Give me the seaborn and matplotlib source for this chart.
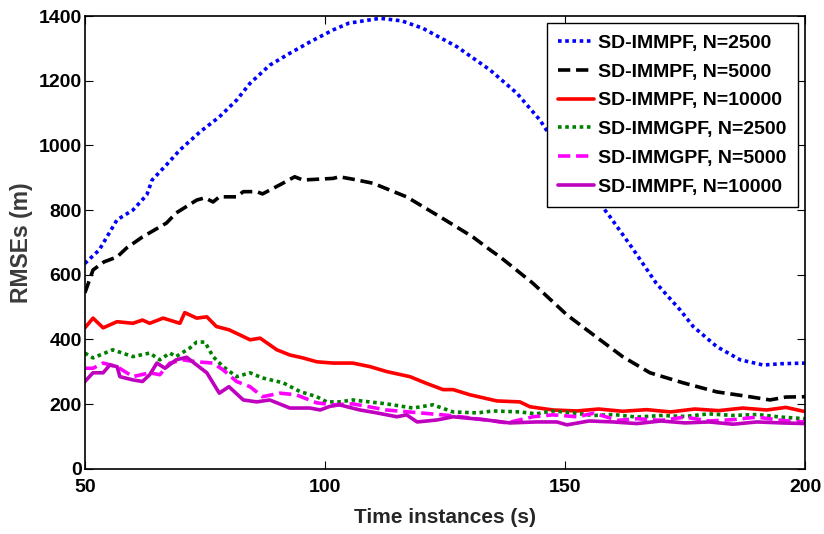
import matplotlib
matplotlib.use("Agg")
import matplotlib.pyplot as plt
import seaborn as sns
import numpy as np
import pandas as pd

# ---- data ----
t_imm2500 = [50, 53, 56.7, 60, 62.9, 64, 67, 69.8, 74, 78, 81.6, 84.4, 88.5, 92.7, 96.9,
             101.7, 105, 111.5, 116, 120.4, 127.5, 134.4, 140, 144.8, 147.5, 152, 156,
             159.4, 164, 169, 174, 176.7, 181.6, 186.5, 191.3, 195, 200]
y_imm2500 = [635, 677, 770, 800, 847, 893, 940, 986, 1042, 1088, 1140, 1192, 1248, 1285, 1320,
             1357, 1378, 1393, 1385, 1362, 1305, 1233, 1161, 1078, 1016, 920, 845,
             779, 683, 574, 491, 440, 378, 337, 321, 325, 327]

t_imm5000 = [50, 51.7, 54, 56.7, 58.7, 62, 67, 69, 73.3, 75, 76.7, 78, 81.6, 83, 85.8, 87,
             90.6, 93.7, 95.4, 101.7, 103, 106, 110, 117, 124, 130.8, 134.4, 136.5, 143.3,
             150.4, 157.3, 162, 167.7, 174.6, 181.6, 188.5, 192.7, 196, 200]
y_imm5000 = [544, 615, 640, 655, 683, 717, 760, 791, 831, 838, 825, 841, 841, 857, 857, 850,
             878, 903, 893, 898, 903, 895, 883, 841, 779, 717, 677, 655, 574,
             476, 399, 347, 297, 266, 238, 223, 213, 222, 223]

t_imm10000 = [50, 51.7, 53.8, 56.7, 60, 62, 63.5, 66.3, 69.8, 70.8, 73.3, 75.4, 77.4, 80,
              82.3, 84.4, 86.5, 90, 92.7, 95.4, 98.3, 101.7, 105.8, 109.4, 112.8, 117.7,
              121.2, 124.6, 126.7, 130.2, 135.8, 140.6, 142.7, 147.5, 152.5, 157, 162, 167,
              172, 177, 182, 187, 192, 196, 200]
y_imm10000 = [436, 466, 436, 455, 450, 460, 450, 466, 450, 483, 466, 470, 440, 430,
              414, 399, 404, 368, 352, 343, 331, 327, 327, 316, 301, 285,
              264, 245, 245, 229, 210, 207, 192, 182, 179, 185, 178, 183,
              176, 185, 180, 188, 182, 190, 177]

t_gpf2500 = [50, 51.7, 55.8, 60, 63.5, 65.6, 67.7, 69, 71.9, 73.3, 75, 76.7, 78.8, 81.6, 84.4,
             87, 91.3, 94.8, 98.3, 100.4, 103, 105.8, 112.8, 118.3, 122.5, 126.7, 131.7, 135,
             140.6, 144, 147.5, 151.7, 156, 160, 165, 170, 175, 180, 185, 190, 195, 200]
y_gpf2500 = [358, 343, 368, 347, 358, 337, 358, 347, 374, 392, 392, 347, 316, 285, 297,
             281, 266, 239, 223, 207, 207, 213, 201, 188, 198, 176, 173, 179,
             176, 170, 179, 173, 165, 168, 160, 165, 162, 170, 165, 168, 160, 155]

t_gpf5000 = [50, 51.7, 53.8, 56.7, 60, 63.5, 65.6, 67.7, 70.4, 73.3, 76.7, 78.8, 81.6, 84.4,
             87, 90.6, 94, 98.3, 101.7, 105.8, 112.8, 119.8, 126.7, 133.7, 137.9, 143.3,
             147.5, 152.5, 156, 161, 165, 170, 175, 180, 185, 190, 195, 200]
y_gpf5000 = [311, 311, 327, 316, 285, 297, 291, 327, 337, 331, 327, 306, 270, 254,
             223, 234, 229, 204, 198, 201, 182, 173, 164, 151, 142, 161,
             167, 161, 172, 150, 155, 150, 160, 148, 152, 160, 150, 145]

t_imm10000b = [50, 51.7, 53.8, 55.2, 56.7, 57.3, 60, 62, 63.5, 65, 66.7, 69, 71.2, 73.3, 75.4,
               78, 80, 83, 85.8, 88.5, 92.7, 96.9, 99, 101, 103, 107.3, 110.8, 115, 117, 119.2,
               123.3, 126.7, 133.7, 138.5, 144, 148.3, 150.4, 155, 160, 165, 170, 175, 180,
               185, 190, 195, 200]
y_imm10000b = [270, 297, 297, 321, 316, 285, 275, 270, 291, 327, 311, 337, 345, 321, 297,
               234, 254, 213, 207, 213, 188, 188, 182, 193, 198, 182, 173, 161, 167, 145,
               151, 161, 151, 142, 145, 145, 136, 148, 145, 140, 148, 142, 145,
               138, 145, 142, 140]

labels = ["SD-IMMPF, N=2500", "SD-IMMPF, N=5000", "SD-IMMPF, N=10000",
          "SD-IMMGPF, N=2500", "SD-IMMGPF, N=5000", "SD-IMMPF, N=10000"]
x_ticks = [50, 100, 150, 200]
y_ticks = [0, 200, 400, 600, 800, 1000, 1200, 1400]

series = [(t_imm2500, y_imm2500), (t_imm5000, y_imm5000), (t_imm10000, y_imm10000),
          (t_gpf2500, y_gpf2500), (t_gpf5000, y_gpf5000), (t_imm10000b, y_imm10000b)]
colors = ["#0000FF", "#000000", "#FF0000", "#008000", "#FF00FF", "#BF00BF"]
styles = [(0, (1, 1)), (0, (3.4, 1.6)), "-", (0, (1, 1)), (0, (3.4, 1.6)), "-"]

# ---- style ----
sns.set_theme(style="white")
plt.rcParams["font.family"] = ["Liberation Sans", "DejaVu Sans"]
plt.rcParams["font.weight"] = "bold"

fig = plt.figure(figsize=(8.24, 5.34), dpi=100)
ax = fig.add_axes([0.103, 0.122, 0.874, 0.848])

for (t, y), lab, c, ls in zip(series, labels, colors, styles):
    df = pd.DataFrame({"t": t, "y": y})
    sns.lineplot(data=df, x="t", y="y", ax=ax, color=c, linestyle=ls,
                 linewidth=2.6, label=lab, estimator=None)

ax.set_xlim(50, 200)
ax.set_ylim(0, 1400)
ax.set_xticks(x_ticks)
ax.set_yticks(y_ticks)
ax.set_xticklabels([str(v) for v in x_ticks], fontsize=14, fontweight="bold", color="black")
ax.set_yticklabels([str(v) for v in y_ticks], fontsize=14, fontweight="bold", color="black")
ax.tick_params(direction="in", length=6, width=0.8, top=True, right=True,
               bottom=True, left=True, pad=2, colors="black")
ax.tick_params(axis="x", pad=7)
for s in ax.spines.values():
    s.set_visible(True)
    s.set_color("black")
    s.set_linewidth(1.2)

ax.set_xlabel("Time instances (s)", fontsize=15, fontweight="bold", color="#262626",
              labelpad=9)
ax.set_ylabel("RMSEs (m)", fontsize=16.5, fontweight="bold", color="#3a3a3a", labelpad=4)

leg = ax.legend(loc="upper right", fontsize=14, frameon=True, fancybox=False,
                edgecolor="black", framealpha=1, handlelength=1.85, handletextpad=0.2,
                labelspacing=0.57, borderpad=0.6, borderaxespad=0.35)
leg.get_frame().set_linewidth(1.0)
for txt in leg.get_texts():
    txt.set_fontweight("bold")
    txt.set_color("black")

fig.savefig("out.png", dpi=100)
